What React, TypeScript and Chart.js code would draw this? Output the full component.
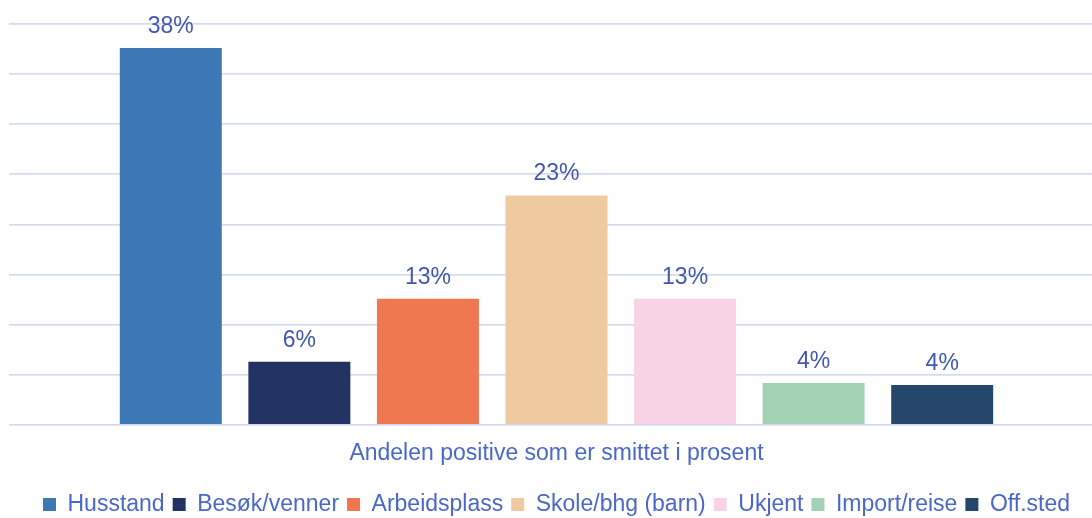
import React, { useEffect, useRef } from "react";
import { Chart, registerables } from "chart.js";

Chart.register(...registerables);

const categories = ["Andelen positive som er smittet i prosent"];
const seriesNames = ["Husstand", "Besøk/venner", "Arbeidsplass", "Skole/bhg (barn)", "Ukjent", "Import/reise", "Off.sted"];
const seriesValues = [37.6, 6.3, 12.6, 22.9, 12.6, 4.2, 4.0];
const seriesColors = ["#3C78B5", "#223263", "#F07850", "#EFC9A0", "#F8D3E6", "#A2D1B4", "#24476B"];
const yTicks = [0, 5, 10, 15, 20, 25, 30, 35, 40];

const FONT = "'Liberation Sans', Arial, sans-serif";
const LABEL_COLOR = "#4157B0";
const TEXT_COLOR = "#4A68C6";

const dataLabelPlugin = {
  id: "dataLabels",
  afterDatasetsDraw(chart: any) {
    const ctx = chart.ctx;
    ctx.save();
    ctx.font = `23px ${FONT}`;
    ctx.fillStyle = LABEL_COLOR;
    ctx.textAlign = "center";
    ctx.textBaseline = "alphabetic";
    chart.data.datasets.forEach((ds: any, i: number) => {
      const meta = chart.getDatasetMeta(i);
      meta.data.forEach((bar: any, j: number) => {
        const v = ds.data[j] as number;
        ctx.fillText(`${Math.round(v)}%`, bar.x, bar.y - 15);
      });
    });
    ctx.restore();
  },
};

export default function App() {
  const ref = useRef<HTMLCanvasElement | null>(null);
  useEffect(() => {
    document.body.style.margin = "0";
    document.body.style.overflow = "hidden";
    const canvas = ref.current!;
    const chart = new Chart(canvas, {
      type: "bar",
      data: {
        labels: categories,
        datasets: seriesNames.map((name, i) => ({
          label: name,
          data: [seriesValues[i]],
          backgroundColor: seriesColors[i],
          borderWidth: 0,
          barPercentage: 0.7933,
          categoryPercentage: 0.8219,
        })),
      },
      options: {
        responsive: false,
        animation: false,
        devicePixelRatio: 1,
        layout: { padding: { left: 9, right: 0, top: 24, bottom: -8 } },
        plugins: {
          tooltip: { enabled: false },
          legend: {
            position: "bottom",
            labels: {
              boxWidth: 13,
              boxHeight: 13,
              padding: 8,
              color: TEXT_COLOR,
              font: { family: FONT, size: 23 },
            },
          },
        },
        scales: {
          x: {
            grid: { display: false },
            border: { display: false },
            ticks: { color: TEXT_COLOR, font: { family: FONT, size: 23 }, padding: 7 },
            afterFit: (axis: any) => {
              axis.height = 60;
            },
          },
          y: {
            min: yTicks[0],
            max: yTicks[yTicks.length - 1],
            afterBuildTicks: (axis: any) => {
              axis.ticks = yTicks.map((v) => ({ value: v }));
            },
            ticks: { display: false },
            border: { display: false },
            grid: { color: "#D6DCEF", lineWidth: 1.8, drawTicks: false },
          },
        },
      },
      plugins: [dataLabelPlugin],
    });
    return () => chart.destroy();
  }, []);
  return <canvas ref={ref} width={1104} height={518} style={{ display: "block" }} />;
}
